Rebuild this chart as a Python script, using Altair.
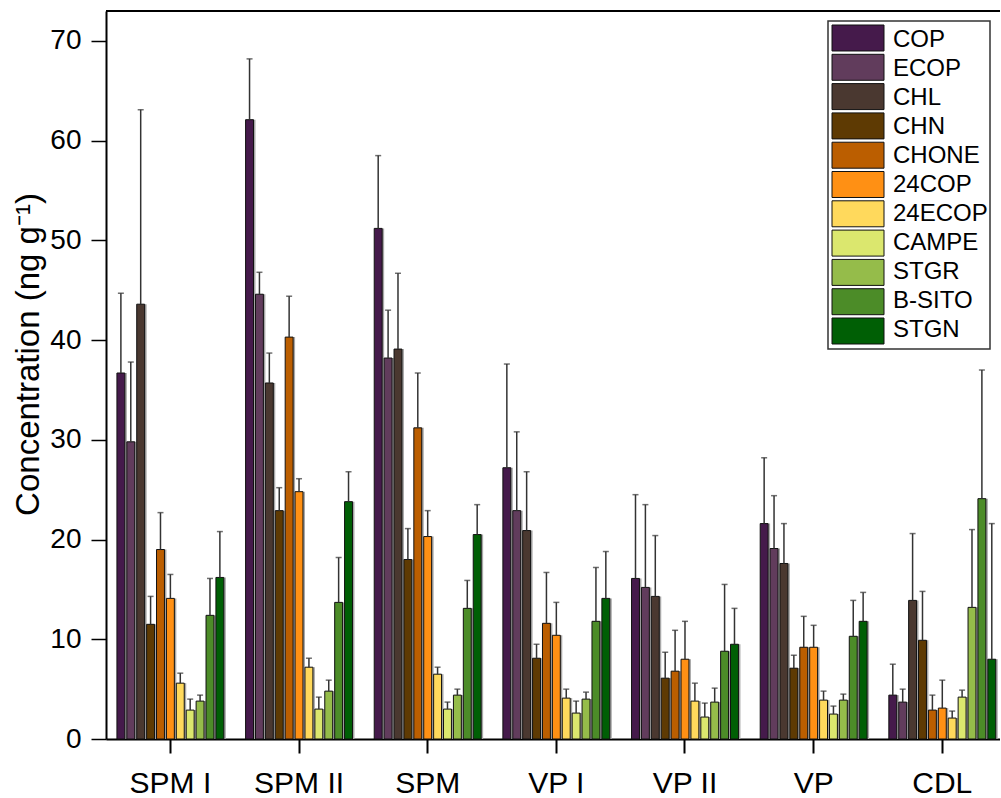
import altair as alt
import pandas as pd

sites = ["SPM I", "SPM II", "SPM", "VP I", "VP II", "VP", "CDL"]
compounds = ["COP", "ECOP", "CHL", "CHN", "CHONE", "24COP", "24ECOP",
             "CAMPE", "STGR", "B-SITO", "STGN"]
colors = ["#451a4b", "#613c5c", "#4a3830", "#5e3a03", "#bb5e00", "#ff9014",
          "#ffd95c", "#dbe76e", "#95bc4a", "#4c8c28", "#005f05"]

# mean concentration (ng/g) per site, in compound order
mean_spm1 = [36.7, 29.8, 43.6, 11.5, 19.0, 14.1, 5.6, 2.9, 3.8, 12.4, 16.2]
mean_spm2 = [62.1, 44.6, 35.7, 22.9, 40.3, 24.8, 7.2, 3.0, 4.8, 13.7, 23.8]
mean_spm = [51.2, 38.2, 39.1, 18.0, 31.2, 20.3, 6.5, 3.0, 4.4, 13.1, 20.5]
mean_vp1 = [27.2, 22.9, 20.9, 8.1, 11.6, 10.4, 4.1, 2.6, 4.0, 11.8, 14.1]
mean_vp2 = [16.1, 15.2, 14.3, 6.1, 6.8, 8.0, 3.8, 2.2, 3.7, 8.8, 9.5]
mean_vp = [21.6, 19.1, 17.6, 7.1, 9.2, 9.2, 3.9, 2.5, 3.9, 10.3, 11.8]
mean_cdl = [4.4, 3.7, 13.9, 9.9, 2.9, 3.1, 2.1, 4.2, 13.2, 24.1, 8.0]

# standard deviations, same order
sd_spm1 = [8.0, 8.0, 19.5, 2.8, 3.7, 2.4, 1.0, 1.1, 0.6, 3.7, 4.6]
sd_spm2 = [6.1, 2.2, 3.0, 2.3, 4.1, 1.3, 0.9, 1.2, 1.1, 4.5, 3.0]
sd_spm = [7.3, 4.8, 7.6, 3.1, 5.5, 2.6, 0.7, 0.7, 0.6, 2.8, 3.0]
sd_vp1 = [10.4, 7.9, 5.9, 1.4, 5.1, 3.3, 0.9, 1.2, 0.7, 5.4, 4.7]
sd_vp2 = [8.4, 8.3, 6.1, 2.6, 4.1, 3.8, 1.8, 1.4, 1.4, 6.7, 3.6]
sd_vp = [6.6, 5.3, 4.0, 1.3, 3.1, 2.2, 0.9, 0.8, 0.6, 3.6, 2.9]
sd_cdl = [3.1, 1.3, 6.7, 4.9, 1.5, 2.8, 0.7, 0.7, 7.8, 12.9, 13.6]

means = [mean_spm1, mean_spm2, mean_spm, mean_vp1, mean_vp2, mean_vp, mean_cdl]
sds = [sd_spm1, sd_spm2, sd_spm, sd_vp1, sd_vp2, sd_vp, sd_cdl]

rows = []
for site, m_list, s_list in zip(sites, means, sds):
    for comp, m, s in zip(compounds, m_list, s_list):
        rows.append({"site": site, "compound": comp, "mean": m, "top": round(m + s, 2)})
df = pd.DataFrame(rows)
legend_df = pd.DataFrame({"compound": compounds})

FONT = "Liberation Sans"
W, H = 894, 728
P_IN, P_OUT = 0.169, 0.059
STEP = W / (len(sites) - P_IN + 2 * P_OUT)
BAND = STEP * (1 - P_IN)

x_enc = alt.X(
    "site:N", sort=sites, title=None,
    scale=alt.Scale(paddingInner=P_IN, paddingOuter=P_OUT, align=0.72),
    axis=alt.Axis(labelAngle=0, labelFontSize=30, labelFont=FONT, labelColor="black",
                  labelPadding=15, tickSize=14, tickWidth=2, tickColor="black",
                  domainColor="black", domainWidth=2),
)
xoff_scale = dict(paddingInner=0.2, paddingOuter=0)
y_scale = alt.Scale(domain=[0, 73], nice=False)
color_scale = alt.Scale(domain=compounds, range=colors)

base = alt.Chart(df).encode(
    x=x_enc, xOffset=alt.XOffset("compound:N", sort=compounds, scale=alt.Scale(**xoff_scale)))

# soft drop shadow behind each bar, shifted 2px to the right
shadow = alt.Chart(df).mark_bar(color="#a8a8a8").encode(
    x=x_enc,
    xOffset=alt.XOffset("compound:N", sort=compounds,
                        scale=alt.Scale(range=[2, BAND + 2], **xoff_scale)),
    y=alt.Y("mean:Q", scale=y_scale, axis=None),
)

bars = base.mark_bar(stroke="#111111", strokeWidth=1).encode(
    y=alt.Y("mean:Q", scale=y_scale, title="Concentration (ng g⁻¹)",
            axis=alt.Axis(values=[0, 10, 20, 30, 40, 50, 60, 70], grid=False,
                          labelFontSize=28, labelFont=FONT, labelColor="black",
                          labelPadding=10, tickSize=15, tickWidth=1.5,
                          tickColor="black", domainColor="black", domainWidth=2,
                          titleFontSize=33, titleFont=FONT, titleFontWeight="normal",
                          titleColor="black", titleX=-61, titleY=343,
                          titleBaseline="bottom")),
    color=alt.Color("compound:N", sort=compounds, scale=color_scale, legend=None),
)

err = base.mark_rule(color="#333333", strokeWidth=1.5).encode(
    y=alt.Y("mean:Q", scale=y_scale, axis=None), y2="top:Q")
caps = base.mark_tick(color="#333333", thickness=1.5, size=6, orient="horizontal").encode(
    y=alt.Y("top:Q", scale=y_scale, axis=None))

frame_top = alt.Chart(df).mark_rule(color="black", strokeWidth=2).encode(
    x=alt.value(0), x2=alt.value(W), y=alt.value(0))

# legend: boxed list of swatches in the upper right corner
leg_y = alt.Y("compound:N", sort=compounds, axis=None,
              scale=alt.Scale(domain=compounds, range=[14, 333],
                              paddingInner=0.113, paddingOuter=0))
legend_box = alt.Chart(pd.DataFrame({"box": [0]})).mark_rect(
    fill="white", stroke="#333333", strokeWidth=1.5).encode(
    x=alt.value(722), x2=alt.value(884), y=alt.value(10), y2=alt.value(338))
legend_swatch = alt.Chart(legend_df).mark_rect(stroke="#111111", strokeWidth=1).encode(
    x=alt.value(726), x2=alt.value(778), y=leg_y,
    color=alt.Color("compound:N", scale=color_scale, legend=None))
legend_text = alt.Chart(legend_df).mark_text(
    align="left", baseline="middle", font=FONT, fontSize=24, color="black").encode(
    x=alt.value(787), y=leg_y, text="compound:N")

chart = alt.layer(shadow, bars, err, caps, frame_top,
                  legend_box, legend_swatch, legend_text).resolve_scale(
    xOffset="independent", y="independent"
).properties(
    width=W, height=H,
    autosize=alt.AutoSizeParams(type="none"),
    padding={"left": 106, "top": 11, "right": 0, "bottom": 59},
).configure_view(stroke=None).configure(background="white")

chart.save("out.html", embed_options={"renderer": "svg", "actions": False})
